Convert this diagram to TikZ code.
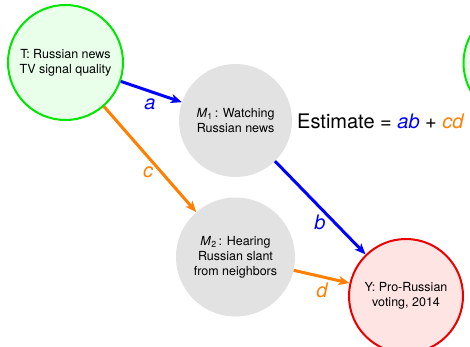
\documentclass[tikz,border=0pt]{standalone}
\usepackage{fontspec}
\setmainfont{TeX Gyre Heros}
\usetikzlibrary{arrows.meta}
\definecolor{tgreen}{RGB}{0,230,0}
\definecolor{tgreenfill}{RGB}{234,255,234}
\definecolor{yred}{RGB}{235,0,0}
\definecolor{yredfill}{RGB}{255,228,228}
\definecolor{mgray}{RGB}{226,226,226}
\definecolor{pblue}{RGB}{0,0,255}
\definecolor{porange}{RGB}{255,128,0}
\tikzset{
  var/.style={circle, minimum size=#1, inner sep=0pt, align=center,
    font=\fontsize{12.5}{15}\selectfont},
  treat/.style={var=115pt, draw=tgreen, fill=tgreenfill, line width=2pt},
  outc/.style={var=114pt, draw=yred, fill=yredfill, line width=2pt},
  medi/.style={var=#1, fill=mgray},
  path/.style={line width=3pt, -{Stealth[length=11pt,width=9pt,inset=3pt]}},
  coef/.style={font=\fontsize{20}{23}\selectfont\itshape}
}
\newcommand{\msub}[2]{\textit{#1}\textsubscript{#2}\,:}
\begin{document}
\begin{tikzpicture}[x=1pt,y=-1pt]
  \clip (0,0) rectangle (470,347);
  \fill[white] (0,0) rectangle (470,347);

  % variables
  \node[treat] (T) at (65.5,62.5) {T: Russian news\\TV signal quality};
  \node[medi=113pt] (M1) at (235.5,120.5) {\msub{M}{1} Watching\\Russian news};
  \node[medi=119pt] (M2) at (235.5,257) {\msub{M}{2} Hearing\\Russian slant\\from neighbors};
  \node[outc] (Y) at (406,296) {Y: Pro-Russian\\voting, 2014};
  \node[treat] (R) at (521,63) {};

  % causal paths
  \draw[path, pblue] (T) -- (M1);
  \draw[path, porange] (T) -- (M2);
  \draw[path, pblue] (M1) -- (Y);
  \draw[path, porange] (M2) -- (Y);

  % path coefficients
  \node[coef, text=pblue] (la) at (150,104) {a};
  \node[coef, text=porange] (lc) at (148,172) {c};
  \node[coef, text=pblue] (lb) at (320,222) {b};
  \node[coef, text=porange] (ld) at (322,290) {d};

  % indirect effect
  \node[anchor=west, inner sep=0pt, font=\fontsize{20}{24}\selectfont] (est) at (297,121)
    {Estimate = \textcolor{pblue}{\textit{ab}} + \textcolor{porange}{\textit{cd}}};
\end{tikzpicture}
\end{document}
